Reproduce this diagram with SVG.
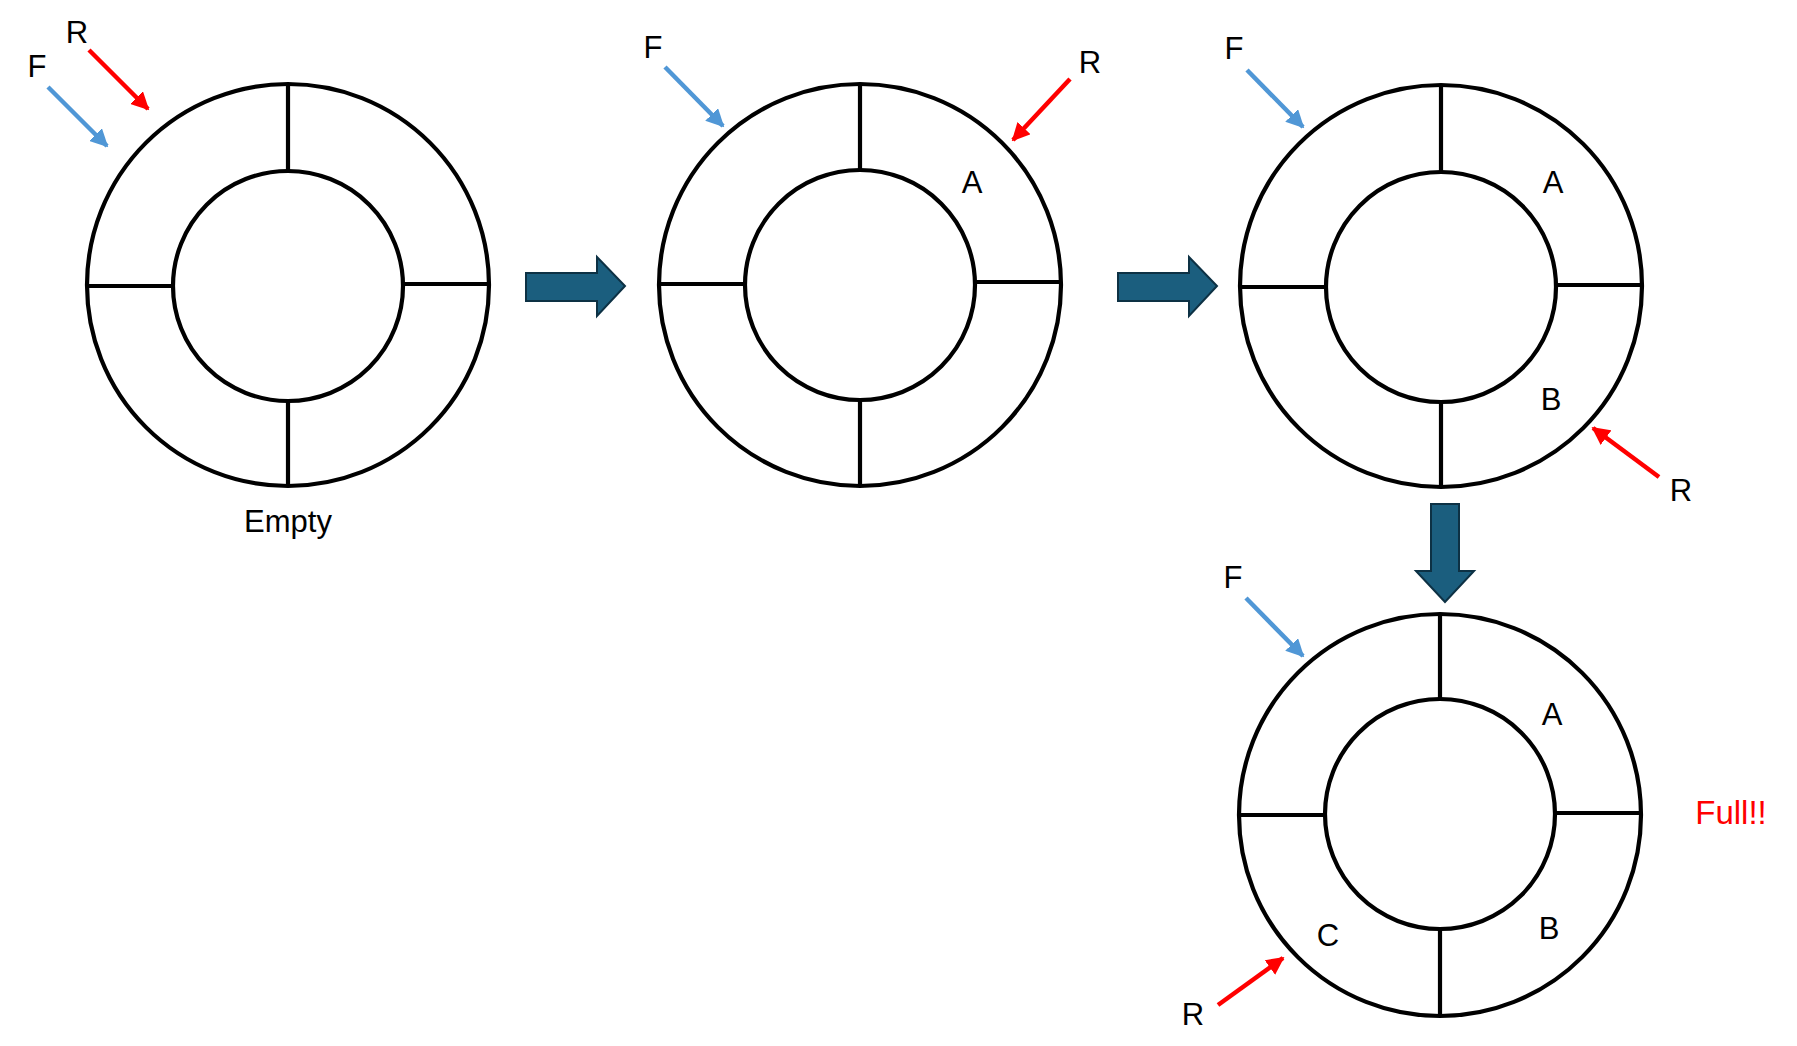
<svg xmlns="http://www.w3.org/2000/svg" width="1797" height="1046" viewBox="0 0 1797 1046">
<style>
.ring{fill:none;stroke:#000;stroke-width:4.2}
.spoke{stroke:#000;stroke-width:4.2}
.lbl{font-family:"Liberation Sans",Arial,sans-serif;font-size:31px;fill:#000;text-anchor:middle}
.blue{stroke:#5097D6;stroke-width:4.5;fill:none}
.red{stroke:#FF0000;stroke-width:4.5;fill:none}
.block{fill:#1B5E7E;stroke:#0D3144;stroke-width:2}
</style>
<defs>
<marker id="hb" viewBox="0 0 10 10" refX="9" refY="5" markerWidth="4" markerHeight="4" orient="auto" markerUnits="strokeWidth"><path d="M0,0 L10,5 L0,10 z" fill="#5097D6"/></marker>
<marker id="hr" viewBox="0 0 10 10" refX="9" refY="5" markerWidth="4" markerHeight="4" orient="auto" markerUnits="strokeWidth"><path d="M0,0 L10,5 L0,10 z" fill="#FF0000"/></marker>
</defs>
<rect width="1797" height="1046" fill="#fff"/>

<g id="ring1">
<circle class="ring" cx="288" cy="285" r="201"/>
<circle class="ring" cx="288" cy="286" r="115"/>
<line class="spoke" x1="288" y1="84" x2="288" y2="171"/>
<line class="spoke" x1="288" y1="401" x2="288" y2="486"/>
<line class="spoke" x1="87" y1="286" x2="173" y2="286"/>
<line class="spoke" x1="403" y1="284" x2="489" y2="284"/>
<text class="lbl" x="288" y="532" font-size="34">Empty</text>
</g>

<g id="ring2">
<circle class="ring" cx="860" cy="285" r="201"/>
<circle class="ring" cx="860" cy="285" r="115"/>
<line class="spoke" x1="860" y1="84" x2="860" y2="170"/>
<line class="spoke" x1="860" y1="400" x2="860" y2="486"/>
<line class="spoke" x1="659" y1="284" x2="745" y2="284"/>
<line class="spoke" x1="975" y1="282" x2="1060" y2="282"/>
<text class="lbl" x="972" y="193">A</text>
</g>

<g id="ring3">
<circle class="ring" cx="1441" cy="286" r="201"/>
<circle class="ring" cx="1441" cy="287" r="115"/>
<line class="spoke" x1="1441" y1="85" x2="1441" y2="172"/>
<line class="spoke" x1="1441" y1="402" x2="1441" y2="487"/>
<line class="spoke" x1="1240" y1="287" x2="1326" y2="287"/>
<line class="spoke" x1="1556" y1="285" x2="1642" y2="285"/>
<text class="lbl" x="1553" y="193">A</text>
<text class="lbl" x="1551" y="410">B</text>
</g>

<g id="ring4">
<circle class="ring" cx="1440" cy="815" r="201"/>
<circle class="ring" cx="1440" cy="814" r="115"/>
<line class="spoke" x1="1440" y1="614" x2="1440" y2="700"/>
<line class="spoke" x1="1440" y1="929" x2="1440" y2="1016"/>
<line class="spoke" x1="1239" y1="815" x2="1325" y2="815"/>
<line class="spoke" x1="1555" y1="813" x2="1641" y2="813"/>
<text class="lbl" x="1552" y="725">A</text>
<text class="lbl" x="1549" y="939">B</text>
<text class="lbl" x="1328" y="946">C</text>
<text x="1731" y="824" font-family="'Liberation Sans',Arial,sans-serif" font-size="33" fill="#FF0000" text-anchor="middle">Full!!</text>
</g>

<g id="pointers">
<text class="lbl" x="77" y="43">R</text>
<text class="lbl" x="37" y="77">F</text>
<text class="lbl" x="653" y="58">F</text>
<text class="lbl" x="1090" y="73">R</text>
<text class="lbl" x="1234" y="59">F</text>
<text class="lbl" x="1681" y="501">R</text>
<text class="lbl" x="1233" y="588">F</text>
<text class="lbl" x="1193" y="1025">R</text>
</g>

<g id="connectors">
<line class="red" x1="89" y1="50" x2="148" y2="109" marker-end="url(#hr)"/>
<line class="blue" x1="48" y1="87" x2="107" y2="146" marker-end="url(#hb)"/>
<line class="blue" x1="665" y1="67" x2="723" y2="126" marker-end="url(#hb)"/>
<line class="red" x1="1070" y1="79" x2="1013" y2="140" marker-end="url(#hr)"/>
<line class="blue" x1="1247" y1="70" x2="1303" y2="127" marker-end="url(#hb)"/>
<line class="red" x1="1659" y1="477" x2="1593" y2="428" marker-end="url(#hr)"/>
<line class="blue" x1="1246" y1="598" x2="1303" y2="656" marker-end="url(#hb)"/>
<line class="red" x1="1218" y1="1005" x2="1283" y2="958" marker-end="url(#hr)"/>
<path class="block" d="M526,273 L597,273 L597,257 L625,286 L597,316 L597,301 L526,301 Z"/>
<path class="block" d="M1118,273 L1189,273 L1189,257 L1217,286 L1189,316 L1189,301 L1118,301 Z"/>
<path class="block" d="M1431,504 L1459,504 L1459,571 L1474,571 L1445,602 L1416,571 L1431,571 Z"/>
</g>
</svg>
